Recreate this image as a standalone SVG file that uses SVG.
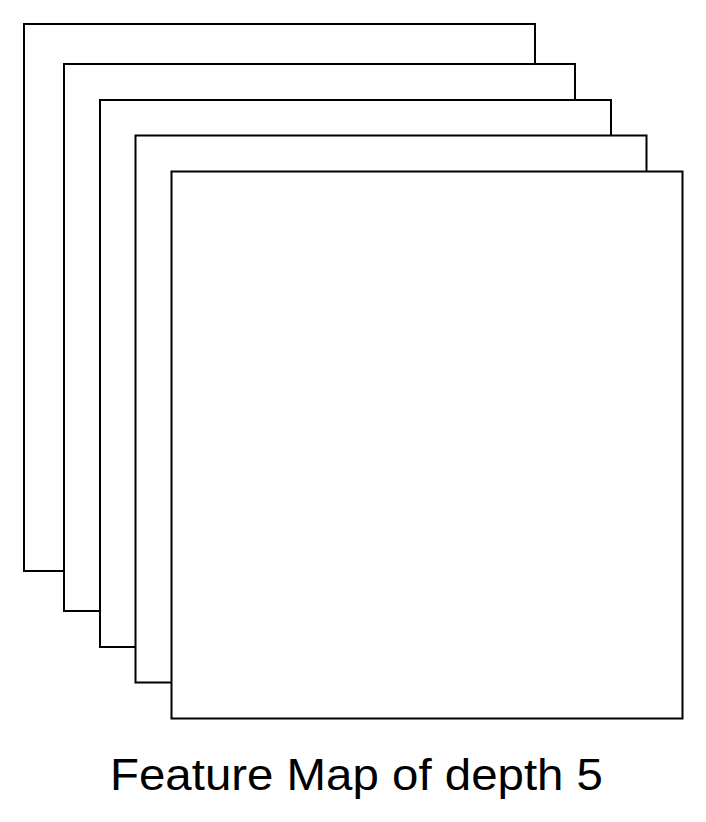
<svg xmlns="http://www.w3.org/2000/svg" width="706" height="822" viewBox="0 0 706 822">
<style>
.map{fill:#fff;stroke:#000;stroke-width:2}
.lbl{font-family:"Liberation Sans",Arial,sans-serif;font-size:45px;fill:#000}
</style>
<rect width="706" height="822" fill="#fff"/>
<g id="map1"><rect class="map" x="24" y="24" width="511" height="547"/></g>
<g id="map2"><rect class="map" x="64" y="64" width="511" height="547"/></g>
<g id="map3"><rect class="map" x="100" y="100" width="511" height="547"/></g>
<g id="map4"><rect class="map" x="135.5" y="135.5" width="511" height="547"/></g>
<g id="map5"><rect class="map" x="171.5" y="171.5" width="511" height="547"/></g>
<g id="connectors"></g>
<g id="label"><text class="lbl" x="356.5" y="790" text-anchor="middle" textLength="493" lengthAdjust="spacingAndGlyphs">Feature Map of depth 5</text></g>
</svg>
